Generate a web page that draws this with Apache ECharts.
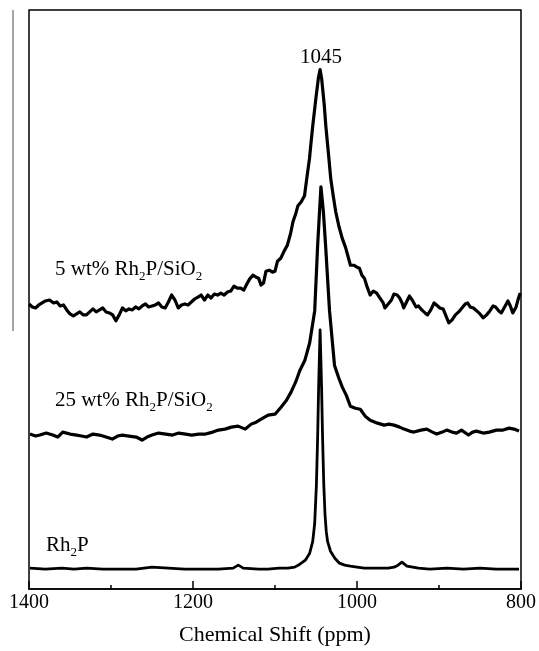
<!DOCTYPE html>
<html>
<head>
<meta charset="utf-8">
<script src="https://cdn.jsdelivr.net/npm/echarts@6/dist/echarts.min.js"></script>
<style>html,body{margin:0;padding:0;background:#fff;}#c{width:539px;height:651px;}</style>
</head>
<body>
<div id="c"></div>
<script>
// Chemical shift (ppm) and intensity (arbitrary units, stacked offsets included)
const ppm5 = [1400,1396,1392,1388,1384,1380,1375,1370,1366,1362,1358,1354,1350,1346,1342,1338,1334,1330,1326,1322,1318,1314,1310,1306,1302,1298,1294,1290,1286,1282,1278,1274,1270,1266,1262,1258,1254,1250,1246,1242,1238,1234,1230,1226,1222,1218,1214,1210,1206,1202,1198,1194,1190,1186,1182,1178,1174,1170,1166,1162,1158,1154,1150,1146,1142,1138,1135,1131,1127,1123,1120,1117,1114,1111,1107,1103,1100,1097,1093,1089,1085,1081,1078,1075,1072,1068,1064,1061,1058,1056,1054,1050,1047,1045,1043,1040,1038,1035,1032,1029,1026,1022,1018,1014,1011,1008,1004,1000,997,994,991,988,984,980,976,972,968,966,962,958,955,951,948,945,943,939,936,932,928,925,921,917,914,910,906,903,899,895,892,888,884,880,876,872,868,865,862,858,854,850,846,842,838,834,831,827,824,820,816,813,810,806,803,801];
const int5 = [287,284,283,286,288,290,291,288,289,285,286,281,277,275,277,279,276,276,279,282,279,281,283,279,278,276,270,276,283,280,282,281,284,282,285,287,284,285,286,288,284,283,289,296,291,283,286,287,286,289,292,294,296,291,296,293,297,296,298,296,299,300,305,303,303,301,306,312,316,314,313,306,308,320,321,319,320,330,333,340,346,358,370,377,386,390,396,415,433,450,466,495,515,523,513,488,466,440,413,396,380,365,353,344,335,326,326,324,323,316,313,305,296,300,298,293,288,283,287,291,297,296,293,288,283,290,295,290,284,285,281,278,276,281,288,286,283,282,276,268,271,276,279,283,287,288,284,283,280,277,273,276,280,285,284,280,278,284,290,285,278,284,293,298];

const ppm25 = [1398.8,1392,1386.7,1379,1371.0,1365,1358.9,1350,1341.9,1336,1329.8,1322,1314.1,1306,1298.4,1292,1286.3,1278,1269.3,1262.1,1256,1250.0,1242,1233.1,1225,1217.3,1209,1201.6,1193,1184.7,1176,1168.9,1161,1153.2,1145,1136.3,1129.0,1123,1116.9,1108.4,1100.0,1092.7,1086,1080.6,1075,1069.7,1063.7,1057.7,1051.6,1048.0,1044.0,1041,1038.3,1033.5,1027.4,1022,1017.8,1013,1008.1,1002,996.0,990,983.9,975,966.9,961,954.8,948,942.7,936,930.6,922,914.9,908,902.8,896,890.7,884,878.6,872.6,864.1,859,854.4,846,838.7,830,821.8,814.5,808.5,802.4];
const int25 = [156,154,155,157,155,153,158,156,155,154,153,156,155,153,151,154,155,154,153,150,153,155,157,156,155,157,156,155,156,156,158,160,161,163,164,161,166,168,171,175,176,183,190,198,208,220,230,248,280,346,405,380,346,280,225,212,203,195,184,182,181,174,170,167,165,166,165,163,161,159,158,160,161,158,156,158,160,158,157,160,155,158,159,157,158,160,160,162,161,159];

const ppmRh2P = [1398.8,1380,1360,1345,1329.8,1310,1290.0,1269.3,1250.0,1230,1210,1193.0,1169.0,1151.0,1144.8,1138.7,1120,1108.5,1095,1084.3,1076,1069.7,1063,1057.7,1054,1051.6,1049.5,1048.0,1046.8,1045.0,1043.2,1042.0,1040.5,1039,1037.5,1035.9,1032.3,1027,1021.4,1015,1008.1,1000,991.1,980,971.8,962,954.8,950.0,945.2,939.1,925,911.3,890,870.2,850,830.2,815,802.4];
const intRh2P = [21,20,21,20,21,20,20,20,22,21,20,20,20,21,24,21,20,20,21,21,22,25,29,36,48,66,105,153,203,261,203,153,105,75,58,48,38,31,26,24,23,22,21,21,21,21,22,24,27,23,21,20,21,20,21,20,20,20];

const xTicks = [1400,1200,1000,800];
const seriesNames = ['5 wt% Rh2P/SiO2','25 wt% Rh2P/SiO2','Rh2P'];
const peakLabel = '1045';

const zip = (a,b) => a.map((v,i)=>[v,b[i]]);
const serif = 'Liberation Serif, Times New Roman, serif';

const chart = echarts.init(document.getElementById('c'), null, {renderer:'canvas'});
const mkSeries = (name, xs, ys, w) => ({
  name, type:'line', data: zip(xs, ys), showSymbol:false, symbol:'none',
  lineStyle:{color:'#000', width:w, join:'round'}, smooth:false, animation:false
});
const rich = {
  n:{fontFamily:serif,fontSize:21,color:'#000',lineHeight:26},
  s:{fontFamily:serif,fontSize:13,color:'#000',padding:[15,0,0,0],lineHeight:26}
};
chart.setOption({
  animation:false,
  grid:{left:29,right:14,top:10,bottom:58,show:true,borderColor:'#000',borderWidth:1.5,backgroundColor:'transparent'},
  xAxis:{
    type:'value', min:800, max:1400, interval:200, inverse:true,
    axisLine:{show:true,lineStyle:{color:'#000',width:1.5}},
    axisTick:{show:true,inside:true,length:8,lineStyle:{color:'#000',width:1.5}},
    minorTick:{show:true,splitNumber:2,length:4,lineStyle:{color:'#000',width:1.5}},
    splitLine:{show:false},
    axisLabel:{color:'#000',fontFamily:serif,fontSize:20,margin:4,
      formatter:v=>xTicks.includes(v)?String(v):''},
    name:'Chemical Shift (ppm)', nameLocation:'middle', nameGap:35,
    nameTextStyle:{color:'#000',fontFamily:serif,fontSize:22}
  },
  yAxis:{type:'value',min:0,max:583,show:false,splitLine:{show:false}},
  series:[
    mkSeries(seriesNames[0], ppm5, int5, 3.2),
    mkSeries(seriesNames[1], ppm25, int25, 3.2),
    mkSeries(seriesNames[2], ppmRh2P, intRh2P, 2.8)
  ],
  graphic:[
    {type:'line',shape:{x1:13,y1:10,x2:13,y2:331},style:{stroke:'#888',lineWidth:1.5}},
    {type:'text',style:{text:peakLabel,x:321,y:57,align:'center',verticalAlign:'middle',fontFamily:serif,fontSize:21,fill:'#000'}},
    {type:'text',style:{x:55,y:256,text:'{n|5 wt% Rh}{s|2}{n|P/SiO}{s|2}',rich:rich,verticalAlign:'top'}},
    {type:'text',style:{x:55,y:387,text:'{n|25 wt% Rh}{s|2}{n|P/SiO}{s|2}',rich:rich,verticalAlign:'top'}},
    {type:'text',style:{x:46,y:532,text:'{n|Rh}{s|2}{n|P}',rich:rich,verticalAlign:'top'}}
  ]
});
</script>
</body>
</html>
